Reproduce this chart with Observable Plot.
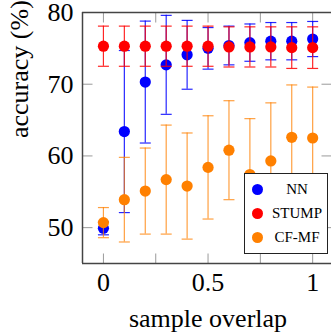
<!DOCTYPE html>
<html>
<head>
<meta charset="utf-8">
<script src="https://cdn.jsdelivr.net/npm/d3@7"></script>
<script src="https://cdn.jsdelivr.net/npm/@observablehq/plot@0.6"></script>
<style>
  html, body { margin: 0; padding: 0; background: white; }
  #wrap { position: relative; width: 331px; height: 332px; overflow: hidden; }
  #legend {
    position: absolute; left: 244px; top: 173px; width: 82px; height: 79px;
    border: 1.3px solid #222; background: white;
    font-family: "Liberation Serif", serif; font-size: 15px; color: #000;
  }
  .row { position: absolute; left: 0; width: 82px; height: 20px; }
  .sw { position: absolute; left: 7px; top: 4px; width: 11px; height: 11px; border-radius: 50%; }
  .lab { position: absolute; left: 22px; right: 0; top: 0px; text-align: center; line-height: 18px; }
</style>
</head>
<body>
<div id="wrap"></div>
<script>
const xs = [0, 0.1, 0.2, 0.3, 0.4, 0.5, 0.6, 0.7, 0.8, 0.9, 1];

const seriesNames = ["NN", "STUMP", "CF-MF"];
const seriesColors = ["#0000ff", "#ff0000", "#ff8000"];

const nnMean = [49.9, 63.4, 70.3, 72.7, 74.1, 75.0, 75.4, 75.8, 76.0, 76.0, 76.3];
const nnErr  = [0.9, 11.3, 8.5, 6.9, 4.8, 2.9, 2.7, 2.6, 2.6, 2.6, 2.45];

const stumpMean = [75.3, 75.3, 75.3, 75.3, 75.3, 75.3, 75.2, 75.2, 75.2, 75.1, 75.1];
const stumpErr  = [2.8, 2.8, 2.8, 2.8, 2.8, 2.8, 2.8, 2.8, 2.8, 2.9, 2.9];

const cfMean = [50.7, 53.9, 55.1, 56.7, 55.8, 58.4, 60.8, 57.4, 59.3, 62.6, 62.5];
const cfErr  = [2.1, 5.9, 6.0, 7.6, 7.4, 7.2, 6.9, 7.8, 8.1, 7.3, 7.1];

const xTickLabels = [0, 0.5, 1];
const xTickMarks = [0, 0.25, 0.5, 0.75, 1];
const yTicks = [50, 60, 70, 80];
const xDomain = [-0.1, 1.09];
const yDomain = [45, 80];

const means = [nnMean, stumpMean, cfMean];
const errs = [nnErr, stumpErr, cfErr];

const tables = seriesNames.map((name, s) =>
  xs.map((x, i) => ({
    series: name, x, y: means[s][i],
    lo: means[s][i] - errs[s][i], hi: means[s][i] + errs[s][i]
  }))
);

const seg = (x1, y1, x2, y2) => ({ draw(ctx) { ctx.moveTo(x1, y1); ctx.lineTo(x2, y2); } });
const cap = seg(-5.5, 0, 5.5, 0);

const seriesMarks = [];
tables.forEach((t, s) => {
  const c = seriesColors[s];
  const op = s === 2 ? 0.75 : 0.85;
  seriesMarks.push(
    Plot.ruleX(t, { x: "x", y1: "lo", y2: "hi", stroke: c, strokeWidth: 1.2, strokeOpacity: op }),
    Plot.dot(t, { x: "x", y: "lo", symbol: cap, stroke: c, fill: "none", strokeWidth: 1.2, strokeOpacity: op }),
    Plot.dot(t, { x: "x", y: "hi", symbol: cap, stroke: c, fill: "none", strokeWidth: 1.2, strokeOpacity: op }),
    Plot.dot(t, { x: "x", y: "y", r: 5.6, fill: c, stroke: "none" })
  );
});

const tickColor = "#9a9a9a";
const frameColor = "#444";

const chart = Plot.plot({
  width: 331, height: 332,
  marginLeft: 82, marginRight: 0, marginTop: 12, marginBottom: 69,
  x: { domain: xDomain },
  y: { domain: yDomain },
  style: { fontFamily: "Liberation Serif", fontSize: "26px", background: "white", color: "#000" },
  marks: [
    Plot.dot(yTicks, { y: d => d, frameAnchor: "left", symbol: seg(0, 0, 10, 0), stroke: tickColor, fill: "none", strokeWidth: 1 }),
    Plot.dot(yTicks, { y: d => d, frameAnchor: "right", symbol: seg(-10, 0, 0, 0), stroke: tickColor, fill: "none", strokeWidth: 1 }),
    Plot.dot(xTickMarks, { x: d => d, frameAnchor: "bottom", symbol: seg(0, 0, 0, -10), stroke: tickColor, fill: "none", strokeWidth: 1 }),
    Plot.dot(xTickMarks, { x: d => d, frameAnchor: "top", symbol: seg(0, 0, 0, 10), stroke: tickColor, fill: "none", strokeWidth: 1 }),
    ...seriesMarks,
    Plot.ruleX([xDomain[0]], { stroke: frameColor, strokeWidth: 1.5 }),
    Plot.ruleY([yDomain[0], yDomain[1]], { stroke: frameColor, strokeWidth: 1.5 }),
    Plot.axisX(xTickLabels, { tickSize: 0, tickPadding: 9, fontSize: 26, label: null, tickFormat: d => String(d) }),
    Plot.axisY(yTicks, { tickSize: 0, tickPadding: 9, fontSize: 26, label: null, tickFormat: d => String(d) }),
    Plot.text(["accuracy (%)"], { frameAnchor: "left", dx: -63, rotate: -90, fontSize: 26, lineAnchor: "middle" }),
    Plot.text(["sample overlap"], { frameAnchor: "bottom", dx: 1, dy: 63, fontSize: 26, lineAnchor: "bottom" })
  ]
});

const wrap = document.getElementById("wrap");
wrap.appendChild(chart);

const legend = document.createElement("div");
legend.id = "legend";
seriesNames.forEach((name, s) => {
  const row = document.createElement("div");
  row.className = "row";
  row.style.top = (6 + s * 24.2) + "px";
  const sw = document.createElement("div");
  sw.className = "sw";
  sw.style.background = seriesColors[s];
  const lab = document.createElement("div");
  lab.className = "lab";
  lab.textContent = name;
  row.appendChild(sw);
  row.appendChild(lab);
  legend.appendChild(row);
});
wrap.appendChild(legend);
</script>
</body>
</html>
